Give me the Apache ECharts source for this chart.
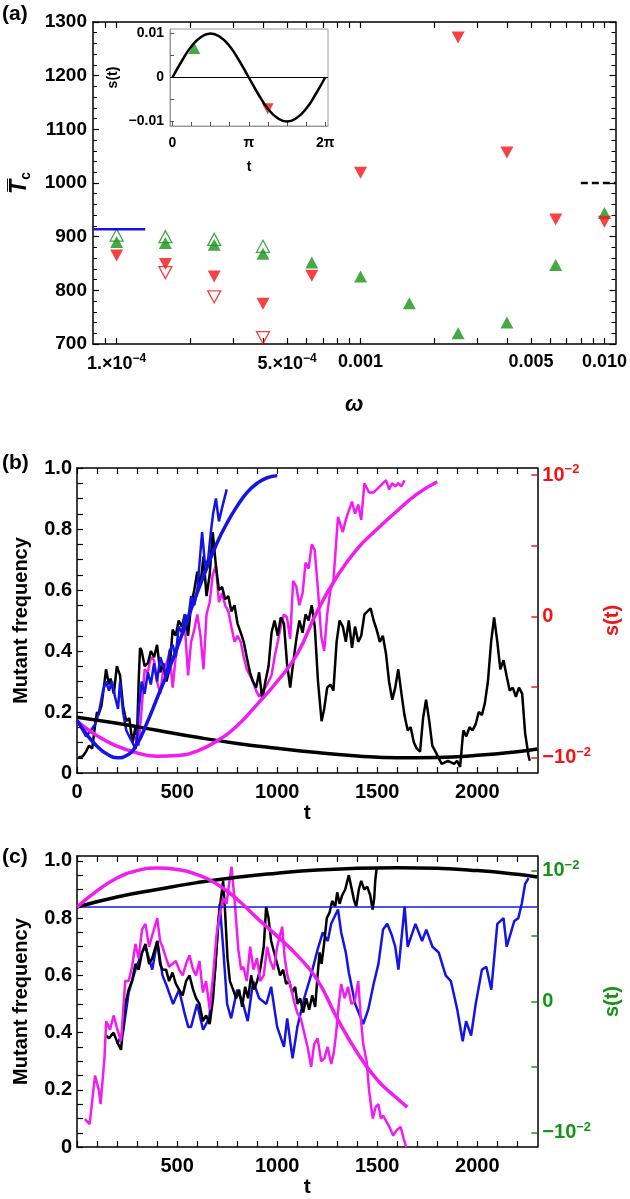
<!DOCTYPE html>
<html>
<head>
<meta charset="utf-8">
<script src="https://cdn.jsdelivr.net/npm/echarts@6/dist/echarts.min.js"></script>
<style>
  html, body { margin: 0; padding: 0; background: #fff; }
  #chart { width: 630px; height: 1199px; }
</style>
</head>
<body>
<div id="chart"></div>
<script>
// ---- panel (a): mean fixation time vs omega ----
const omega = [1e-4, 1.585e-4, 2.512e-4, 3.981e-4, 6.310e-4, 1e-3, 1.585e-3, 2.512e-3, 3.981e-3, 6.310e-3, 1e-2];
const tcGreenFilled = [890, 888, 885, 868, 852, 826, 776, 720, 740, 847, 944];
const tcRedFilled = [865, 849, 826, 775, 827, 1019, null, 1271, 1057, 932, 928];
const tcGreenOpen = [903, 900, 895, 882, null, null, null, null, null, null, null];
const tcRedOpen = [null, 833, 788, 712, null, null, null, null, null, null, null];
const blueRefOmega = [8e-5, 1.31e-4];
const blueRefTc = 914;
const blackRefOmega = [0.008, 0.0111];
const blackRefTc = 1000;
const aTickVals = [1e-4, 5e-4, 1e-3, 5e-3, 1e-2];
const aTickText = ['{m|1.×10}{s|−4}', '{m|5.×10}{s|−4}', '0.001', '0.005', '0.010'];
const aMinorTicks = [9e-5, 1e-4, 2e-4, 3e-4, 4e-4, 5e-4, 6e-4, 7e-4, 8e-4, 9e-4,
  1e-3, 2e-3, 3e-3, 4e-3, 5e-3, 6e-3, 7e-3, 8e-3, 9e-3, 1e-2];

// inset: s(t) over one period
const insetT = [0, 0.393, 0.785, 1.178, 1.571, 1.963, 2.356, 2.749, 3.142, 3.534, 3.927, 4.320, 4.712, 5.105, 5.498, 5.890, 6.283];
const insetS = [0, 0.0038, 0.0071, 0.0092, 0.0100, 0.0092, 0.0071, 0.0038, 0, -0.0038, -0.0071, -0.0092, -0.0100, -0.0092, -0.0071, -0.0038, 0];
const insetGreen = [0.9, 0.0066];
const insetRed = [3.92, -0.0071];

// ---- panel (b) ----
const bBlackNoisy = [[6,0.05],[29,0.055],[45,0.07],[60,0.09],[76,0.08],[91,0.16],[100,0.2],[107,0.19],[122,0.22],[138,0.3],[145,0.34],[160,0.29],[168,0.31],[184,0.26],[199,0.35],[215,0.32],[230,0.22],[246,0.17],[261,0.18],[277,0.1],[292,0.15],[300,0.12],[308,0.3],[315,0.41],[323,0.4],[338,0.35],[354,0.36],[369,0.4],[385,0.38],[400,0.42],[416,0.33],[431,0.36],[447,0.3],[462,0.34],[478,0.47],[493,0.45],[508,0.5],[524,0.48],[539,0.52],[555,0.45],[570,0.55],[586,0.6],[601,0.66],[617,0.62],[632,0.71],[647,0.58],[663,0.65],[678,0.79],[694,0.68],[709,0.6],[725,0.61],[740,0.57],[756,0.58],[771,0.53],[787,0.55],[802,0.49],[818,0.46],[833,0.43],[848,0.38],[864,0.33],[879,0.3],[895,0.28],[910,0.33],[926,0.24],[941,0.3],[957,0.35],[972,0.46],[987,0.5],[1003,0.45],[1018,0.51],[1034,0.49],[1049,0.36],[1065,0.28],[1080,0.36],[1096,0.44],[1111,0.5],[1127,0.46],[1142,0.52],[1157,0.5],[1173,0.55],[1188,0.48],[1204,0.3],[1222,0.17],[1235,0.21],[1250,0.28],[1266,0.29],[1281,0.27],[1297,0.43],[1312,0.5],[1328,0.48],[1343,0.43],[1358,0.5],[1374,0.41],[1389,0.48],[1405,0.43],[1420,0.45],[1436,0.52],[1451,0.53],[1467,0.54],[1482,0.5],[1497,0.47],[1513,0.43],[1528,0.45],[1544,0.39],[1559,0.3],[1575,0.24],[1590,0.28],[1605,0.34],[1621,0.26],[1636,0.19],[1652,0.14],[1667,0.15],[1683,0.1],[1698,0.08],[1714,0.07],[1729,0.18],[1744,0.24],[1760,0.17],[1775,0.09],[1791,0.07],[1806,0.05],[1822,0.03],[1853,0.04],[1884,0.03],[1899,0.04],[1914,0.02],[1930,0.14],[1945,0.12],[1961,0.15],[1976,0.14],[1992,0.16],[2007,0.2],[2023,0.19],[2038,0.23],[2053,0.3],[2069,0.43],[2084,0.51],[2100,0.43],[2115,0.34],[2131,0.37],[2146,0.32],[2162,0.27],[2177,0.28],[2193,0.25],[2208,0.28],[2224,0.26],[2239,0.13],[2255,0.06],[2262,0.04]];
const bBlueNoisy = [[0,0.17],[20,0.15],[45,0.12],[70,0.14],[91,0.16],[110,0.2],[130,0.27],[145,0.3],[160,0.27],[175,0.3],[190,0.25],[205,0.21],[215,0.3],[230,0.2],[246,0.14],[261,0.12],[277,0.1],[292,0.08],[300,0.12],[308,0.2],[323,0.3],[338,0.26],[354,0.33],[369,0.29],[385,0.36],[400,0.3],[416,0.38],[431,0.35],[447,0.32],[462,0.4],[478,0.42],[493,0.38],[508,0.48],[524,0.46],[539,0.52],[555,0.5],[570,0.58],[586,0.55],[601,0.6],[625,0.79],[640,0.68],[655,0.7],[667,0.78],[680,0.85],[694,0.9],[709,0.825],[725,0.87],[748,0.93]];
const bMagNoisy = [[275,0.1],[290,0.12],[308,0.09],[323,0.21],[338,0.34],[354,0.33],[369,0.38],[385,0.37],[400,0.3],[416,0.26],[431,0.34],[447,0.36],[462,0.39],[478,0.28],[493,0.38],[508,0.43],[524,0.45],[539,0.48],[555,0.32],[570,0.43],[586,0.47],[601,0.52],[617,0.45],[632,0.34],[647,0.52],[663,0.56],[678,0.65],[694,0.68],[709,0.56],[725,0.59],[740,0.55],[756,0.53],[771,0.48],[787,0.43],[802,0.45],[818,0.43],[833,0.38],[848,0.34],[864,0.32],[879,0.3],[895,0.27],[910,0.25],[926,0.27],[941,0.28],[957,0.3],[972,0.32],[987,0.38],[1003,0.43],[1018,0.48],[1034,0.52],[1049,0.51],[1065,0.44],[1080,0.63],[1096,0.61],[1111,0.55],[1127,0.59],[1142,0.69],[1157,0.67],[1173,0.75],[1188,0.73],[1204,0.6],[1220,0.45],[1235,0.4],[1250,0.52],[1266,0.6],[1281,0.63],[1304,0.84],[1328,0.79],[1343,0.83],[1358,0.86],[1374,0.89],[1389,0.85],[1405,0.88],[1420,0.83],[1436,0.95],[1459,0.92],[1482,0.92],[1513,0.94],[1544,0.96],[1559,0.93],[1575,0.95],[1590,0.94],[1605,0.95],[1621,0.94],[1636,0.96]];
const bBlackSmooth = [[0,0.183],[200,0.163],[400,0.14],[600,0.117],[800,0.097],[1000,0.081],[1200,0.067],[1400,0.056],[1600,0.05],[1800,0.051],[2000,0.058],[2200,0.07],[2300,0.079]];
const bBlueSmooth = [[0,0.172],[50,0.125],[100,0.088],[150,0.062],[200,0.05],[250,0.058],[300,0.095],[350,0.165],[400,0.245],[450,0.325],[500,0.41],[550,0.5],[600,0.59],[650,0.675],[700,0.755],[750,0.82],[800,0.875],[850,0.92],[900,0.95],[950,0.968],[1000,0.975]];
const bMagSmooth = [[0,0.17],[100,0.122],[200,0.088],[300,0.066],[400,0.055],[500,0.057],[600,0.072],[700,0.105],[800,0.155],[900,0.225],[1000,0.3],[1100,0.39],[1200,0.53],[1300,0.645],[1400,0.735],[1500,0.8],[1600,0.86],[1700,0.915],[1800,0.955]];

// ---- panel (c) ----
const cBlueNoisy = [[200,0.36],[230,0.4],[258,0.54],[292,0.62],[325,0.68],[342,0.7],[376,0.62],[401,0.72],[427,0.6],[450,0.56],[480,0.5],[510,0.55],[540,0.46],[556,0.42],[570,0.42],[600,0.5],[630,0.41],[660,0.45],[690,0.62],[713,0.85],[730,0.7],[750,0.5],[770,0.45],[800,0.55],[830,0.5],[853,0.44],[880,0.58],[910,0.52],[946,0.5],[970,0.56],[1000,0.42],[1034,0.35],[1050,0.45],[1077,0.31],[1101,0.42],[1135,0.52],[1169,0.6],[1202,0.69],[1228,0.75],[1253,0.72],[1270,0.78],[1304,0.83],[1320,0.75],[1343,0.68],[1358,0.61],[1390,0.5],[1430,0.43],[1455,0.48],[1482,0.57],[1506,0.64],[1529,0.76],[1550,0.78],[1573,0.74],[1590,0.7],[1606,0.62],[1637,0.84],[1652,0.7],[1691,0.78],[1724,0.72],[1745,0.76],[1776,0.7],[1807,0.68],[1842,0.6],[1868,0.58],[1900,0.48],[1927,0.37],[1944,0.44],[1969,0.39],[1992,0.5],[2023,0.62],[2045,0.63],[2070,0.55],[2100,0.78],[2131,0.8],[2147,0.7],[2185,0.79],[2205,0.8],[2222,0.85],[2239,0.92],[2256,0.94]];
const cBlackNoisy = [[145,0.39],[160,0.38],[183,0.4],[202,0.365],[220,0.34],[241,0.5],[258,0.55],[275,0.58],[292,0.64],[308,0.62],[325,0.68],[342,0.71],[360,0.64],[376,0.66],[401,0.72],[415,0.64],[427,0.62],[445,0.62],[460,0.58],[477,0.61],[494,0.57],[510,0.55],[528,0.53],[545,0.58],[562,0.6],[580,0.55],[595,0.52],[612,0.5],[629,0.44],[645,0.46],[663,0.43],[680,0.52],[690,0.62],[705,0.78],[718,0.86],[730,0.93],[740,0.82],[752,0.66],[764,0.58],[780,0.55],[795,0.52],[810,0.55],[825,0.49],[840,0.56],[855,0.52],[870,0.6],[885,0.55],[900,0.58],[915,0.62],[933,0.7],[945,0.84],[957,0.8],[970,0.72],[985,0.68],[1000,0.64],[1015,0.6],[1030,0.62],[1045,0.57],[1060,0.58],[1075,0.54],[1090,0.56],[1101,0.5],[1115,0.52],[1130,0.47],[1145,0.52],[1160,0.48],[1175,0.53],[1190,0.49],[1202,0.6],[1212,0.68],[1222,0.64],[1236,0.72],[1248,0.8],[1262,0.82],[1275,0.86],[1290,0.84],[1300,0.89],[1312,0.85],[1325,0.88],[1340,0.9],[1358,0.95],[1370,0.91],[1385,0.86],[1395,0.84],[1408,0.9],[1420,0.93],[1435,0.9],[1450,0.91],[1465,0.88],[1477,0.83],[1485,0.87],[1490,0.93],[1497,0.975]];
const cMagNoisy = [[40,0.098],[63,0.08],[90,0.25],[109,0.2],[118,0.15],[137,0.31],[146,0.44],[165,0.41],[183,0.46],[202,0.41],[220,0.37],[241,0.58],[258,0.58],[275,0.63],[292,0.71],[308,0.66],[325,0.76],[342,0.78],[360,0.7],[376,0.74],[401,0.8],[415,0.72],[427,0.7],[445,0.66],[460,0.63],[494,0.65],[510,0.62],[528,0.6],[545,0.64],[562,0.67],[580,0.62],[595,0.6],[612,0.65],[629,0.54],[645,0.58],[663,0.48],[680,0.6],[697,0.74],[715,0.82],[730,0.87],[747,0.85],[760,0.92],[772,0.98],[789,0.85],[806,0.69],[820,0.62],[831,0.63],[848,0.58],[865,0.7],[882,0.62],[899,0.66],[916,0.58],[933,0.6],[950,0.7],[966,0.65],[983,0.62],[1000,0.7],[1025,0.77],[1038,0.66],[1051,0.6],[1068,0.56],[1084,0.51],[1100,0.47],[1118,0.45],[1135,0.4],[1152,0.35],[1170,0.28],[1185,0.36],[1202,0.38],[1220,0.3],[1236,0.31],[1252,0.35],[1270,0.29],[1283,0.33],[1295,0.4],[1308,0.5],[1320,0.57],[1337,0.52],[1354,0.56],[1371,0.5],[1388,0.51],[1405,0.58],[1418,0.45],[1430,0.36],[1447,0.3],[1459,0.2],[1470,0.14],[1478,0.1],[1492,0.14],[1506,0.15],[1518,0.1],[1530,0.11],[1545,0.09],[1561,0.07],[1580,0.04],[1598,0.06],[1617,0.07],[1632,0.03],[1645,0]];
const cBlackSmooth = [[0,0.839],[200,0.874],[400,0.9],[600,0.924],[800,0.943],[1000,0.957],[1200,0.968],[1400,0.974],[1600,0.976],[1800,0.974],[2000,0.966],[2200,0.953],[2300,0.944]];
const cMagSmooth = [[0,0.839],[100,0.895],[200,0.94],[300,0.966],[400,0.975],[500,0.97],[600,0.952],[700,0.918],[800,0.866],[900,0.8],[1000,0.737],[1100,0.67],[1200,0.585],[1300,0.45],[1400,0.33],[1500,0.235],[1600,0.17],[1650,0.14]];
const cBlueLine = [[0,0.839],[2300,0.839]];

const tTickLabels = [0, 500, 1000, 1500, 2000];
const tTicks = [0,100,200,300,400,500,600,700,800,900,1000,1100,1200,1300,1400,1500,1600,1700,1800,1900,2000,2100,2200];
const fTicks = [0,0.05,0.1,0.15,0.2,0.25,0.3,0.35,0.4,0.45,0.5,0.55,0.6,0.65,0.7,0.75,0.8,0.85,0.9,0.95,1.0];

const FONT = '"Liberation Sans", Arial, sans-serif';
const GREEN = '#179417';
const RED = '#f21414';
const BLUE = '#1414e6';
const MAG = '#f21cf2';

function pairs(xs, ys) {
  const out = [];
  xs.forEach((x, i) => { if (ys[i] !== null) out.push([x, ys[i]]); });
  return out;
}

function frame(extra) {
  return Object.assign({
    axisLine: { show: true, onZero: false, lineStyle: { color: '#000', width: 1.5 } },
    axisTick: { show: true, inside: true, length: 6, lineStyle: { color: '#000', width: 1.2 } },
    axisLabel: { show: false },
    splitLine: { show: false }
  }, extra);
}

function label(size, extra) {
  return Object.assign({ show: true, color: '#000', fontFamily: FONT, fontWeight: 'bold', fontSize: size,
    formatter: v => String(v) }, extra);
}

function supRich(size, color) {
  return {
    m: { fontFamily: FONT, fontWeight: 'bold', fontSize: size, color: color, lineHeight: size + 4 },
    s: { fontFamily: FONT, fontWeight: 'bold', fontSize: Math.round(size * 0.65), color: color, lineHeight: Math.round(size * 0.65), verticalAlign: 'top' }
  };
}

function sAxisLabel(color) {
  return label(20, {
    color: color, margin: 5,
    customValues: [-0.01, 0, 0.01],
    formatter: v => v > 0.005 ? '{m|10}{s|−2}' : (v < -0.005 ? '{m|−10}{s|−2}' : '{m|0}'),
    rich: supRich(20, color)
  });
}

const chart = echarts.init(document.getElementById('chart'), null, { renderer: 'canvas' });

const option = {
  animation: false,
  backgroundColor: '#fff',
  grid: [
    { left: 93, top: 22, width: 523, height: 322 },
    { left: 170, top: 29, width: 158, height: 97, show: true, borderColor: '#9a9a9a', borderWidth: 1, backgroundColor: '#fff' },
    { left: 77, top: 468, width: 496, height: 305 },
    { left: 77, top: 856, width: 496, height: 305 }
  ],
  xAxis: [
    frame({ gridIndex: 0, type: 'log', logBase: 10, min: 8e-5, max: 0.0111, position: 'bottom',
      axisTick: { show: true, inside: true, length: 6, customValues: aMinorTicks, lineStyle: { color: '#000', width: 1.2 } },
      axisLabel: label(18, { margin: 9, customValues: aTickVals, rich: supRich(18, '#000'),
        formatter: v => { for (let i = 0; i < aTickVals.length; i++) { if (Math.abs(Math.log10(v / aTickVals[i])) < 0.01) return aTickText[i]; } return ''; } }),
      name: 'ω', nameLocation: 'middle', nameGap: 50,
      nameTextStyle: { fontFamily: FONT, fontWeight: 'bold', fontStyle: 'italic', fontSize: 22, color: '#000' } }),
    frame({ gridIndex: 0, type: 'log', logBase: 10, min: 8e-5, max: 0.0111, position: 'top',
      axisTick: { show: true, inside: true, length: 6, customValues: aMinorTicks, lineStyle: { color: '#000', width: 1.2 } } }),
    frame({ gridIndex: 1, type: 'value', min: -0.1, max: 6.4, position: 'bottom',
      axisLine: { show: true, onZero: false, lineStyle: { color: '#9a9a9a', width: 1 } },
      axisTick: { show: true, inside: true, length: 4, customValues: [0, 0.785, 1.571, 2.356, 3.142, 3.927, 4.712, 5.498, 6.283], lineStyle: { color: '#555', width: 1 } },
      axisLabel: label(14, { margin: 10, customValues: [0, 3.142, 6.283], formatter: v => v < 1 ? '0' : (v < 4 ? 'π' : '2π') }),
      name: 't', nameLocation: 'middle', nameGap: 34,
      nameTextStyle: { fontFamily: FONT, fontWeight: 'bold', fontSize: 14, color: '#000' } }),
    frame({ gridIndex: 2, type: 'value', min: 0, max: 2300, position: 'bottom',
      axisTick: { show: true, inside: true, length: 6, customValues: tTicks, lineStyle: { color: '#000', width: 1.2 } },
      axisLabel: label(20, { margin: 9, customValues: tTickLabels }),
      name: 't', nameLocation: 'middle', nameGap: 14,
      nameTextStyle: { fontFamily: FONT, fontWeight: 'bold', fontSize: 21, color: '#000' } }),
    frame({ gridIndex: 2, type: 'value', min: 0, max: 2300, position: 'top',
      axisTick: { show: true, inside: true, length: 6, customValues: tTicks, lineStyle: { color: '#000', width: 1.2 } } }),
    frame({ gridIndex: 3, type: 'value', min: 0, max: 2300, position: 'bottom',
      axisTick: { show: true, inside: true, length: 6, customValues: tTicks, lineStyle: { color: '#000', width: 1.2 } },
      axisLabel: label(20, { margin: 9, customValues: [500, 1000, 1500, 2000] }),
      name: 't', nameLocation: 'middle', nameGap: 14,
      nameTextStyle: { fontFamily: FONT, fontWeight: 'bold', fontSize: 21, color: '#000' } }),
    frame({ gridIndex: 3, type: 'value', min: 0, max: 2300, position: 'top',
      axisTick: { show: true, inside: true, length: 6, customValues: tTicks, lineStyle: { color: '#000', width: 1.2 } } })
  ],
  yAxis: [
    frame({ gridIndex: 0, type: 'value', min: 700, max: 1300, interval: 100, position: 'left',
      minorTick: { show: true, splitNumber: 5, length: 4, lineStyle: { color: '#000', width: 1 } },
      axisLabel: label(19, { margin: 6 }),
      name: '{t|T\u0305}{c|c}', nameLocation: 'middle', nameGap: 60, nameRotate: 90,
      nameTextStyle: { rich: {
        t: { fontFamily: FONT, fontWeight: 'bold', fontStyle: 'italic', fontSize: 23, color: '#000', lineHeight: 26 },
        c: { fontFamily: FONT, fontWeight: 'bold', fontSize: 14, color: '#000', verticalAlign: 'bottom', lineHeight: 14 } } } }),
    frame({ gridIndex: 0, type: 'value', min: 700, max: 1300, interval: 100, position: 'right',
      minorTick: { show: true, splitNumber: 5, length: 4, lineStyle: { color: '#000', width: 1 } } }),
    frame({ gridIndex: 1, type: 'value', min: -0.011, max: 0.011, position: 'left',
      axisLine: { show: true, onZero: false, lineStyle: { color: '#9a9a9a', width: 1 } },
      axisTick: { show: true, inside: true, length: 4, customValues: [-0.01, -0.005, 0, 0.005, 0.01], lineStyle: { color: '#555', width: 1 } },
      axisLabel: label(14, { margin: 6, customValues: [-0.01, 0, 0.01], formatter: v => v > 0.005 ? '0.01' : (v < -0.005 ? '−0.01' : '0') }),
      name: 's(t)', nameLocation: 'middle', nameGap: 50, nameRotate: 90,
      nameTextStyle: { fontFamily: FONT, fontWeight: 'bold', fontSize: 14, color: '#000' } }),
    frame({ gridIndex: 2, type: 'value', min: 0, max: 1, position: 'left',
      axisTick: { show: true, inside: true, length: 6, customValues: fTicks, lineStyle: { color: '#000', width: 1.2 } },
      axisLabel: label(20, { margin: 5, customValues: [0, 0.2, 0.4, 0.6, 0.8, 1.0], formatter: v => v === 0 ? '0' : v.toFixed(1) }),
      name: 'Mutant frequency', nameLocation: 'middle', nameGap: 46, nameRotate: 90,
      nameTextStyle: { fontFamily: FONT, fontWeight: 'bold', fontSize: 20, color: '#000' } }),
    frame({ gridIndex: 2, type: 'value', min: -0.0111, max: 0.0105, position: 'right',
      axisTick: { show: true, inside: true, length: 6, customValues: [-0.01, -0.005, 0, 0.005, 0.01], lineStyle: { color: RED, width: 1.5 } },
      axisLabel: sAxisLabel(RED),
      name: 's(t)', nameLocation: 'middle', nameGap: 40, nameRotate: 90,
      nameTextStyle: { fontFamily: FONT, fontWeight: 'bold', fontSize: 20, color: RED } }),
    frame({ gridIndex: 3, type: 'value', min: 0, max: 1.017, position: 'left',
      axisTick: { show: true, inside: true, length: 6, customValues: fTicks, lineStyle: { color: '#000', width: 1.2 } },
      axisLabel: label(20, { margin: 5, customValues: [0, 0.2, 0.4, 0.6, 0.8, 1.0], formatter: v => v === 0 ? '0' : v.toFixed(1) }),
      name: 'Mutant frequency', nameLocation: 'middle', nameGap: 46, nameRotate: 90,
      nameTextStyle: { fontFamily: FONT, fontWeight: 'bold', fontSize: 20, color: '#000' } }),
    frame({ gridIndex: 3, type: 'value', min: -0.0111, max: 0.0111, position: 'right',
      axisTick: { show: true, inside: true, length: 6, customValues: [-0.01, -0.005, 0, 0.005, 0.01], lineStyle: { color: GREEN, width: 1.5 } },
      axisLabel: sAxisLabel(GREEN),
      name: 's(t)', nameLocation: 'middle', nameGap: 40, nameRotate: 90,
      nameTextStyle: { fontFamily: FONT, fontWeight: 'bold', fontSize: 20, color: GREEN } })
  ],
  series: [
    // panel (a)
    { type: 'line', xAxisIndex: 0, yAxisIndex: 0, data: blueRefOmega.map(w => [w, blueRefTc]), symbol: 'none',
      lineStyle: { color: BLUE, width: 2.5 } },
    { type: 'line', xAxisIndex: 0, yAxisIndex: 0, data: blackRefOmega.map(w => [w, blackRefTc]), symbol: 'none',
      lineStyle: { color: '#000', width: 2.5, type: [7, 4] } },
    { type: 'scatter', xAxisIndex: 0, yAxisIndex: 0, data: pairs(omega, tcGreenOpen), symbol: 'triangle', symbolSize: [13, 12],
      itemStyle: { color: 'rgba(0,0,0,0)', borderColor: GREEN, borderWidth: 1.3 } },
    { type: 'scatter', xAxisIndex: 0, yAxisIndex: 0, data: pairs(omega, tcRedOpen), symbol: 'triangle', symbolSize: [13, 12], symbolRotate: 180,
      itemStyle: { color: 'rgba(0,0,0,0)', borderColor: RED, borderWidth: 1.3 } },
    { type: 'scatter', xAxisIndex: 0, yAxisIndex: 0, data: pairs(omega, tcGreenFilled), symbol: 'triangle', symbolSize: [13, 12],
      itemStyle: { color: GREEN } },
    { type: 'scatter', xAxisIndex: 0, yAxisIndex: 0, data: pairs(omega, tcRedFilled), symbol: 'triangle', symbolSize: [13, 12], symbolRotate: 180,
      itemStyle: { color: RED } },
    // inset
    { type: 'line', xAxisIndex: 2, yAxisIndex: 2, data: pairs(insetT, insetS), smooth: true, symbol: 'none',
      lineStyle: { color: '#000', width: 2.5 },
      markLine: { silent: true, symbol: 'none', label: { show: false }, lineStyle: { color: '#000', width: 1, type: 'solid' }, data: [{ yAxis: 0 }] } },
    { type: 'scatter', xAxisIndex: 2, yAxisIndex: 2, data: [insetGreen], symbol: 'triangle', symbolSize: [12, 11], itemStyle: { color: GREEN } },
    { type: 'scatter', xAxisIndex: 2, yAxisIndex: 2, data: [insetRed], symbol: 'triangle', symbolSize: [12, 11], symbolRotate: 180, itemStyle: { color: RED } },
    // panel (b)
    { type: 'line', xAxisIndex: 3, yAxisIndex: 3, data: bMagNoisy, symbol: 'none', lineStyle: { color: MAG, width: 2.5 } },
    { type: 'line', xAxisIndex: 3, yAxisIndex: 3, data: bBlackNoisy, symbol: 'none', lineStyle: { color: '#000', width: 2.5 } },
    { type: 'line', xAxisIndex: 3, yAxisIndex: 3, data: bBlueNoisy, symbol: 'none', lineStyle: { color: BLUE, width: 2.5 } },
    { type: 'line', xAxisIndex: 3, yAxisIndex: 3, data: bBlackSmooth, smooth: true, symbol: 'none', lineStyle: { color: '#000', width: 3.5 } },
    { type: 'line', xAxisIndex: 3, yAxisIndex: 3, data: bMagSmooth, smooth: true, symbol: 'none', lineStyle: { color: MAG, width: 3.5 } },
    { type: 'line', xAxisIndex: 3, yAxisIndex: 3, data: bBlueSmooth, smooth: true, symbol: 'none', lineStyle: { color: BLUE, width: 3.5 } },
    // panel (c)
    { type: 'line', xAxisIndex: 5, yAxisIndex: 5, data: cBlueNoisy, symbol: 'none', lineStyle: { color: BLUE, width: 2.5 } },
    { type: 'line', xAxisIndex: 5, yAxisIndex: 5, data: cBlackNoisy, symbol: 'none', lineStyle: { color: '#000', width: 2.5 } },
    { type: 'line', xAxisIndex: 5, yAxisIndex: 5, data: cMagNoisy, symbol: 'none', lineStyle: { color: MAG, width: 2.5 } },
    { type: 'line', xAxisIndex: 5, yAxisIndex: 5, data: cBlueLine, symbol: 'none', lineStyle: { color: BLUE, width: 1.5 } },
    { type: 'line', xAxisIndex: 5, yAxisIndex: 5, data: cBlackSmooth, smooth: true, symbol: 'none', lineStyle: { color: '#000', width: 3.5 } },
    { type: 'line', xAxisIndex: 5, yAxisIndex: 5, data: cMagSmooth, smooth: true, symbol: 'none', lineStyle: { color: MAG, width: 3.5 } }
  ],
  graphic: [
    { type: 'text', left: 2, top: 4, style: { text: '(a)', font: 'bold 21px ' + FONT, fill: '#000' } },
    { type: 'text', left: 2, top: 453, style: { text: '(b)', font: 'bold 21px ' + FONT, fill: '#000' } },
    { type: 'text', left: 2, top: 847, style: { text: '(c)', font: 'bold 21px ' + FONT, fill: '#000' } }
  ]
};

chart.setOption(option);
</script>
</body>
</html>
